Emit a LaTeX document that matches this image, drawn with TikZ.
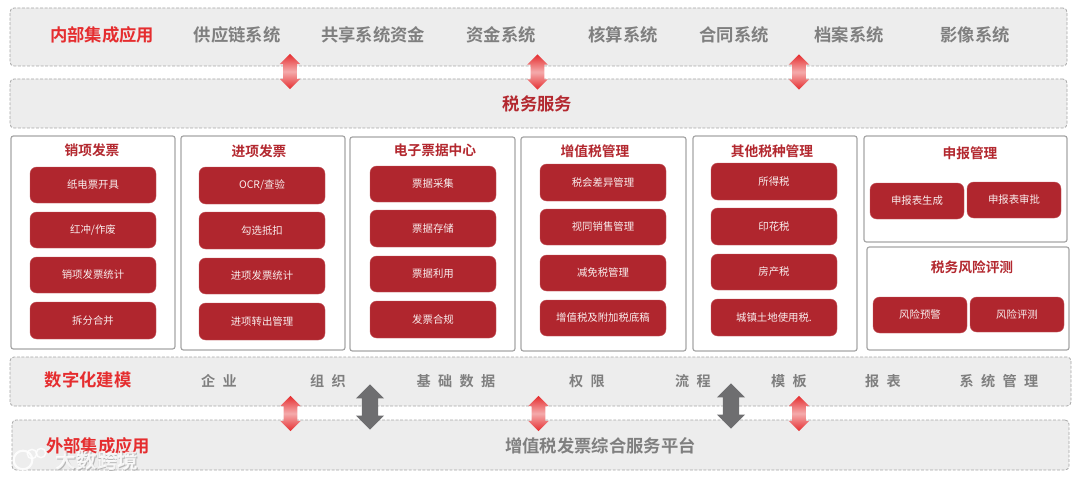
\documentclass[tikz,border=0pt]{standalone}
\usepackage{fontspec}
\usetikzlibrary{shapes.arrows}
\setmainfont{Noto Sans CJK SC}
\newfontfamily\cjkb[WordSpace=2.3]{Noto Sans CJK SC Bold}
\newfontfamily\cjkr{Noto Sans CJK SC}
\definecolor{pillred}{HTML}{B0262E}
\definecolor{headred}{HTML}{E52D2F}
\definecolor{titlered}{HTML}{B3282F}
\definecolor{txtgray}{HTML}{7F7F7F}
\definecolor{bandfill}{HTML}{EDEDED}
\definecolor{edgegray}{HTML}{A6A6A6}
\definecolor{arrowgray}{HTML}{6E6E70}
\tikzset{
  band/.style={draw=edgegray,fill=bandfill,dashed,dash pattern=on 2.2pt off 1.2pt,line width=.6pt,rounded corners=3pt,inner sep=0pt},
  pane/.style={draw=edgegray,fill=white,line width=.9pt,rounded corners=1.8pt,inner sep=0pt},
  pill/.style={draw=pillred!75!white,line width=.3pt,fill=pillred,rounded corners=5pt,inner sep=0pt,text=white!92!pillred,font=\cjkr\fontsize{7.8pt}{9pt}\selectfont},
  headtext/.style={text=headred,font=\cjkb\fontsize{13pt}{15pt}\selectfont,inner sep=0pt},
  graytext/.style={text=txtgray,font=\cjkb\fontsize{13pt}{15pt}\selectfont,inner sep=0pt},
  spacedtext/.style={text=txtgray,font=\cjkb\fontsize{10.6pt}{13pt}\selectfont,inner sep=0pt},
  panetitle/.style={text=titlered,font=\cjkb\fontsize{10.3pt}{12pt}\selectfont,inner sep=0pt},
  redarrow/.style={shape=double arrow,shape border rotate=90,double arrow head extend=2.6pt,inner sep=4.9pt,minimum width=15.5pt,minimum height=26.5pt,top color=headred,bottom color=headred,middle color=headred!40!white},
  grayarrow/.style={shape=double arrow,shape border rotate=90,double arrow head extend=4.5pt,inner sep=5.9pt,minimum width=21pt,minimum height=34pt,fill=arrowgray},
  water/.style={text=white,opacity=.85,inner sep=0pt,font=\cjkb\fontsize{15.5pt}{18pt}\selectfont},
  logoring/.style={circle,draw=white,opacity=.85,inner sep=0pt}
}
\newcommand{\bx}[7]{%
  \pgfmathsetmacro{\bw}{(#4-#2)*.75}\pgfmathsetmacro{\bh}{(#5-#3)*.75}%
  \pgfmathsetmacro{\bcx}{(#2+#4)/2}\pgfmathsetmacro{\bcy}{(#3+#5)/2}%
  \node[#6,minimum width=\bw pt,minimum height=\bh pt] (#1) at (\bcx,\bcy) {#7};}
\begin{document}
\begin{tikzpicture}[x=.75pt,y=-.75pt]
\useasboundingbox (0,0) rectangle (1080,481);
% bands
\bx{bandA}{10}{8}{1067}{66}{band}{}
\bx{bandB}{10}{79}{1067}{128}{band}{}
\bx{bandC}{10}{357}{1071}{406}{band}{}
\bx{bandD}{12}{420}{1069}{470}{band}{}
% top band text
\node[headtext] (t0) at (102,35) {内部集成应用};
\node[graytext] (t1) at (237,35) {供应链系统};
\node[graytext] (t2) at (373,35) {共享系统资金};
\node[graytext] (t3) at (501,35) {资金系统};
\node[graytext] (t4) at (623,35) {核算系统};
\node[graytext] (t5) at (734,35) {合同系统};
\node[graytext] (t6) at (849,35) {档案系统};
\node[graytext] (t7) at (975,35) {影像系统};
\node[text=titlered,font=\cjkb\fontsize{13pt}{15pt}\selectfont,inner sep=0pt] (svc) at (537.5,104) {税务服务};
% panes
\bx{p1}{11}{136}{175}{349}{pane}{}
\bx{p2}{181}{136}{345}{350}{pane}{}
\bx{p3}{350}{137}{515}{351}{pane}{}
\bx{p4}{521}{137}{686}{351}{pane}{}
\bx{p5}{693}{136}{857}{351}{pane}{}
\bx{p6}{864}{136}{1067}{242}{pane}{}
\bx{p7}{867}{247}{1069}{350}{pane}{}
\node[panetitle] (h1) at (92,150) {销项发票};
\node[panetitle] (h2) at (259,151) {进项发票};
\node[panetitle] (h3) at (435,150) {电子票据中心};
\node[panetitle] (h4) at (595,151) {增值税管理};
\node[panetitle] (h5) at (772,151) {其他税种管理};
\node[panetitle] (h6) at (970,153) {申报管理};
\node[panetitle] (h7) at (972,267) {税务风险评测};
% pills
\bx{a1}{30}{167}{156}{203}{pill}{纸电票开具}
\bx{a2}{30}{212}{156}{248}{pill}{红冲/作废}
\bx{a3}{30}{257}{156}{293}{pill}{销项发票统计}
\bx{a4}{30}{302}{156}{339}{pill}{拆分合并}
\bx{b1}{199}{167}{325}{204}{pill}{OCR/查验}
\bx{b2}{199}{212}{325}{249}{pill}{勾选抵扣}
\bx{b3}{199}{258}{325}{294}{pill}{进项发票统计}
\bx{b4}{199}{303}{325}{340}{pill}{进项转出管理}
\bx{c1}{370}{166}{496}{202}{pill}{票据采集}
\bx{c2}{370}{210}{496}{247}{pill}{票据存储}
\bx{c3}{370}{256}{496}{292}{pill}{票据利用}
\bx{c4}{370}{301}{496}{338}{pill}{发票合规}
\bx{d1}{540}{164}{666}{201}{pill}{税会差异管理}
\bx{d2}{540}{209}{666}{245}{pill}{视同销售管理}
\bx{d3}{540}{255}{666}{291}{pill}{减免税管理}
\bx{d4}{540}{300}{666}{336}{pill}{增值税及附加税底稿}
\bx{e1}{711}{163}{837}{200}{pill}{所得税}
\bx{e2}{711}{208}{837}{245}{pill}{印花税}
\bx{e3}{711}{254}{837}{290}{pill}{房产税}
\bx{e4}{711}{299}{837}{336}{pill}{城镇土地使用税.}
\bx{f1}{870}{183}{964}{219}{pill}{申报表生成}
\bx{f2}{967}{182}{1061}{218}{pill}{申报表审批}
\bx{g1}{873}{297}{967}{333}{pill}{风险预警}
\bx{g2}{970}{297}{1064}{332}{pill}{风险评测}
% modelling band text
\node[headtext] (m0) at (88,380) {数字化建模};
\node[spacedtext] (m1) at (219,381) {企 业};
\node[spacedtext] (m2) at (328,381) {组 织};
\node[spacedtext] (m3) at (456,381) {基 础 数 据};
\node[spacedtext] (m4) at (587,381) {权 限};
\node[spacedtext] (m5) at (693,381) {流 程};
\node[spacedtext] (m6) at (789,381) {模 板};
\node[spacedtext] (m7) at (883,381) {报 表};
\node[spacedtext] (m8) at (999,381) {系 统 管 理};
% external band text
\node[headtext] (x0) at (98,446) {外部集成应用};
\node[graytext,font=\cjkb\fontsize{13pt}{15pt}\selectfont] (x1) at (600.5,446) {增值税发票综合服务平台};
% arrows
\node[redarrow] (ra1) at (290,71.5) {};
\node[redarrow] (ra2) at (537.5,72) {};
\node[redarrow] (ra3) at (799,72) {};
\node[redarrow] (ra4) at (290.5,413.5) {};
\node[redarrow] (ra5) at (538.5,413.5) {};
\node[redarrow] (ra6) at (799,413.5) {};
\node[grayarrow] (ga1) at (370,407) {};
\node[grayarrow] (ga2) at (731,406) {};
% watermark
\node[text=black!40,opacity=.65,inner sep=0pt,font=\cjkb\fontsize{15.5pt}{18pt}\selectfont] (wm0) at (97.8,461.8) {大数跨境};
\node[water] (wm) at (97,461) {大数跨境};
\node[logoring,line width=1.6pt,minimum size=14pt] (lg1) at (23,460) {};
\node[logoring,line width=1.1pt,minimum size=7pt] (lg2) at (32,454) {};
\node[logoring,line width=1.1pt,minimum size=7pt] (lg3) at (41,453) {};
\end{tikzpicture}
\end{document}
